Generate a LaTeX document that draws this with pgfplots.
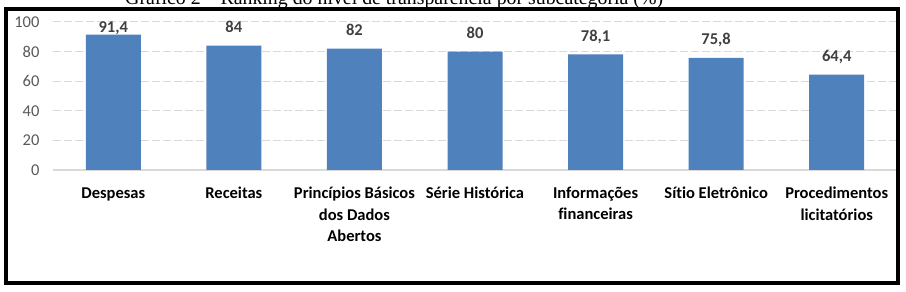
\documentclass[border=0pt]{standalone}
\usepackage{pgfplots}
\pgfplotsset{compat=1.18}
\usepackage{fontspec}
\setmainfont{Carlito}[Ligatures=NoCommon]
\newfontfamily\titlefont{Liberation Serif}
\definecolor{barblue}{HTML}{4F81BD}
\definecolor{gridgray}{HTML}{D9D9D9}
\definecolor{tickgray}{HTML}{595959}
\definecolor{valgray}{HTML}{404040}
\newcommand\fs{\rule{0pt}{11pt}}
\begin{document}
\begin{tikzpicture}[x=1pt,y=1pt]
\clip (0,0) rectangle (906,292);
\fill[white] (0,0) rectangle (906,292);
\begin{axis}[
  at={(53pt,122pt)}, anchor=south west,
  scale only axis, width=844pt, height=148pt,
  xmin=-0.5, xmax=6.5, ymin=0, ymax=100,
  ybar, bar width=55pt,
  axis line style={draw=none},
  major tick length=0pt,
  xtick={0,1,2,3,4,5,6},
  xticklabels={\fs Despesas, \fs Receitas, {\fs Princípios Básicos\\dos Dados\\Abertos}, \fs Série Histórica, {\fs Informações\\financeiras}, \fs Sítio Eletrônico, {\fs Procedimentos\\licitatórios}},
  xticklabel style={align=center, anchor=north, inner sep=0pt, yshift=-17pt, font=\bfseries\fontsize{16.5}{21.3}\selectfont, text=black},
  ytick={20,40,60,80,100},
  extra y ticks={0},
  extra y tick style={grid style={solid, gridgray, line width=1.2pt}},
  ymajorgrids,
  grid style={gridgray, line width=1pt, dash pattern=on 8pt off 3pt},
  yticklabel style={anchor=east, xshift=-10pt, font=\fontsize{16.5}{19}\selectfont, text=tickgray},
  /pgf/number format/assume math mode=true,
  /pgf/number format/use comma,
  /pgf/number format/fixed,
  /pgf/number format/precision=1,
  nodes near coords,
  every node near coord/.append style={font=\bfseries\fontsize{16.5}{19}\selectfont, text=valgray, inner sep=0pt, text depth=0pt, yshift=13pt},
  coordinate style/.condition={\coordindex==0}{yshift=-10.8pt},
]
\addplot[fill=barblue, draw=none] coordinates {
  (0,91.4) (1,84) (2,82) (3,80) (4,78.1) (5,75.8) (6,64.4)
};
\end{axis}
\node[anchor=base west, inner sep=0pt, font=\titlefont\fontsize{19.85}{22}\selectfont] at (125,287.5) {Gráfico 2 – Ranking do nível de transparência por subcategoria (\%)};
\draw[line width=4pt, black] (6,9) rectangle (898,283);
\end{tikzpicture}
\end{document}
